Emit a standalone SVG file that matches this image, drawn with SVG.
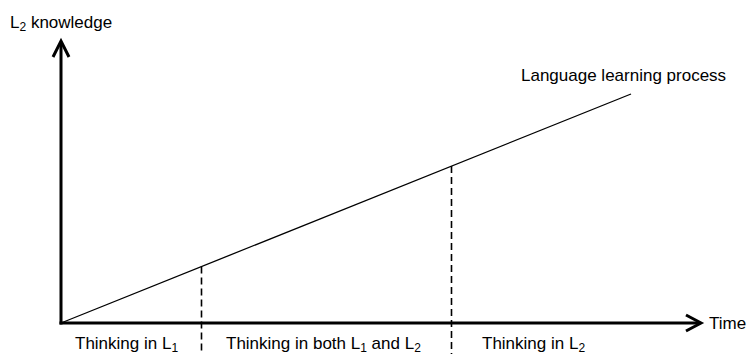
<svg xmlns="http://www.w3.org/2000/svg" width="748" height="354" viewBox="0 0 748 354">
  <style>
    text { font-family: "Liberation Sans", Arial, sans-serif; font-size: 17px; fill: #000; }
    .sub { font-size: 12px; }
    .axis { stroke: #000; stroke-width: 3; fill: none; }
    .dash { stroke: #000; stroke-width: 1.6; stroke-dasharray: 7 4; fill: none; }
    .proc { stroke: #000; stroke-width: 1.3; fill: none; }
  </style>
  <rect width="748" height="354" fill="#fff"/>
  <g id="axes">
    <line class="axis" x1="61" y1="42" x2="61" y2="324.5"/>
    <line class="axis" x1="59.5" y1="323" x2="700" y2="323"/>
    <polyline class="axis" points="53,57 61,41 69,57" stroke-linejoin="miter"/>
    <polyline class="axis" points="686,315 701,323 686,331" stroke-linejoin="miter"/>
  </g>
  <g id="connectors">
    <line class="proc" x1="61" y1="323" x2="631" y2="94"/>
    <line class="dash" x1="201.5" y1="266.5" x2="201.5" y2="354"/>
    <line class="dash" x1="451.5" y1="166" x2="451.5" y2="354"/>
  </g>
  <g id="labels">
    <text x="10" y="28">L<tspan class="sub" dy="3">2</tspan><tspan dy="-3"> knowledge</tspan></text>
    <text x="521" y="81">Language learning process</text>
    <text x="709" y="329">Time</text>
    <text x="75" y="349">Thinking in L<tspan class="sub" dy="3">1</tspan></text>
    <text x="226" y="349">Thinking in both L<tspan class="sub" dy="3">1</tspan><tspan dy="-3"> and L</tspan><tspan class="sub" dy="3">2</tspan></text>
    <text x="482" y="349">Thinking in L<tspan class="sub" dy="3">2</tspan></text>
  </g>
</svg>
